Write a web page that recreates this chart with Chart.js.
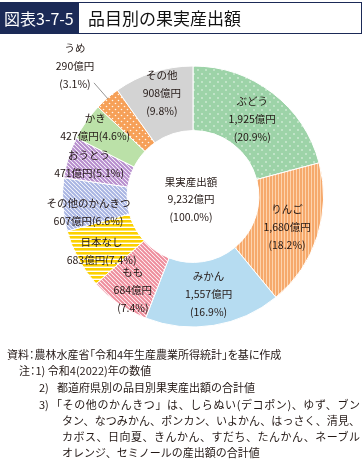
<!DOCTYPE html>
<html><head><meta charset="utf-8">
<script src="https://cdn.jsdelivr.net/npm/chart.js@4.4.1/dist/chart.umd.min.js"></script>
<style>
html,body{margin:0;padding:0;background:#fff;}
body{width:364px;height:466px;position:relative;overflow:hidden;font-family:"Noto Sans CJK JP","Noto Sans",sans-serif;color:#231815;}
#c{position:absolute;left:0;top:0;width:364px;height:466px;}
#titlebar{position:absolute;left:0;top:2px;width:362px;height:32px;box-sizing:border-box;border:1px solid #1b2a57;}
#fig{position:absolute;left:0;top:0;width:78px;height:30px;background:#1b2a57;color:#fff;font-size:16px;line-height:30px;padding-left:3px;box-sizing:border-box;white-space:nowrap;}
#ttl{position:absolute;left:87px;top:0;height:30px;font-size:17px;line-height:30px;color:#111;white-space:nowrap;}
.n{position:absolute;font-size:11px;line-height:16px;white-space:nowrap;color:#231815;}
.j{text-align:justify;text-align-last:justify;}
.p{font-feature-settings:"palt";}
</style></head>
<body>
<canvas id="c" width="364" height="466"></canvas>
<div id="titlebar"><div id="fig">図表3-7-5</div><div id="ttl">品目別の果実産出額</div></div>
<div class="n p" style="left:7px;top:346px;">資料：農林水産省「令和4年生産農業所得統計」を基に作成</div>
<div class="n p" style="left:19px;top:362px;">注：1)&nbsp;令和4(2022)年の数値</div>
<div class="n" style="left:39px;top:379px;">2)</div>
<div class="n" style="left:57px;top:379px;">都道府県別の品目別果実産出額の合計値</div>
<div class="n" style="left:39px;top:396px;">3)</div>
<div class="n j" style="left:51px;top:396px;width:309px;">「その他のかんきつ」は、しらぬい(デコポン)、ゆず、ブン</div>
<div class="n j" style="left:62px;top:412px;width:298px;">タン、なつみかん、ポンカン、いよかん、はっさく、清見、</div>
<div class="n j" style="left:62px;top:428px;width:298px;">カボス、日向夏、きんかん、すだち、たんかん、ネーブル</div>
<div class="n" style="left:62px;top:444px;">オレンジ、セミノールの産出額の合計値</div>
<script>
// ---- data ----
const categories = ['ぶどう','りんご','みかん','もも','日本なし','その他のかんきつ','おうとう','かき','うめ','その他'];
const values = [1925,1680,1557,684,683,607,471,427,290,908];
const percents = [20.9,18.2,16.9,7.4,7.4,6.6,5.1,4.6,3.1,9.8];
const totalLabel = ['果実産出額','9,232億円','(100.0%)'];
// ---- label placement (fraction of outer radius, angle nudge in degrees, layout) ----
const labelRadius = [0.745,0.757,0.755,0.855,0.815,0.81,0.835,0.92,1.35,0.83];
const labelNudge  = [0,0,0,-2,-2,-5,0,0.5,-1,1];
const labelLines  = [3,3,3,3,2,2,2,2,3,3];
const leaderLine  = [false,false,false,false,false,false,false,false,true,false];

function pat(w,h,bg,draw){
  const c=document.createElement('canvas');c.width=w;c.height=h;
  const x=c.getContext('2d');x.fillStyle=bg;x.fillRect(0,0,w,h);draw(x,w,h);
  return x.createPattern(c,'repeat');
}
function dots(bg,s,r,col){return pat(s,s,bg,(x)=>{x.fillStyle=col;[[s*0.25,s*0.25],[s*0.75,s*0.75]].forEach(p=>{x.beginPath();x.arc(p[0],p[1],r,0,Math.PI*2);x.fill();});});}
function diag(bg,s,lw,col){return pat(s,s,bg,(x)=>{x.strokeStyle=col;x.lineWidth=lw;for(let k=-1;k<=1;k++){x.beginPath();x.moveTo(k*s-1,-1);x.lineTo(k*s+s+1,s+1);x.stroke();}});}
function vstripe(bg,col,w,sw){return pat(w,1,bg,(x)=>{x.fillStyle=col;x.fillRect(0,0,sw,1);});}
function hstripe(bg,col,h,sh){return pat(1,h,bg,(x)=>{x.fillStyle=col;x.fillRect(0,0,1,sh);});}

const fills = [
  dots('#9dd3a8',8,0.75,'rgba(255,255,255,0.9)'),
  vstripe('#fdd3ad','#f6a96c',3,2),
  '#b6dcf1',
  diag('#ffffff',4,2,'#ee8d9c'),
  hstripe('#ffffff','#fcd100',4,2.6),
  diag('#ffffff',4,2,'#a8b4e2'),
  diag('#ffffff',4,2,'#b68dcd'),
  '#bbe1a8',
  dots('#f6a058',6,0.8,'rgba(255,255,255,0.9)'),
  '#d3d3d3'
];

const labelPlugin = {
  id:'sliceLabels',
  afterDatasetsDraw(chart){
    const ctx=chart.ctx;const meta=chart.getDatasetMeta(0);
    ctx.save();
    ctx.font='10.5px "Noto Sans CJK JP"';ctx.fillStyle='#231815';
    ctx.textAlign='center';ctx.textBaseline='middle';
    const lh=18;
    let cx0=0,cy0=0;
    meta.data.forEach((arc,i)=>{
      const p=arc.getProps(['x','y','startAngle','endAngle','outerRadius','innerRadius'],true);
      cx0=p.x;cy0=p.y;
      const mid=(p.startAngle+p.endAngle)/2+labelNudge[i]*Math.PI/180;
      const r=p.outerRadius*labelRadius[i];
      const cx=p.x+Math.cos(mid)*r, cy=p.y+Math.sin(mid)*r;
      const amt=values[i].toLocaleString('en-US')+'億円';
      const pc='('+percents[i].toFixed(1)+'%)';
      const lines=labelLines[i]===3?[categories[i],amt,pc]:[categories[i],amt+pc];
      lines.forEach((t,k)=>ctx.fillText(t,cx,cy+(k-(lines.length-1)/2)*lh));
      if(leaderLine[i]){
        const m=(p.startAngle+p.endAngle)/2;
        ctx.strokeStyle='#7a7a7a';ctx.lineWidth=0.8;ctx.beginPath();
        ctx.moveTo(p.x+Math.cos(m)*(p.outerRadius-1),p.y+Math.sin(m)*(p.outerRadius-1));
        ctx.lineTo(p.x+Math.cos(m)*p.outerRadius*1.155,p.y+Math.sin(m)*p.outerRadius*1.155);
        ctx.stroke();
      }
    });
    totalLabel.forEach((t,k)=>ctx.fillText(t,cx0-2,cy0+3+(k-1)*17.5));
    ctx.restore();
  }
};

new Chart(document.getElementById('c'),{
  type:'doughnut',
  data:{labels:categories,datasets:[{data:values,backgroundColor:fills,borderColor:'#ffffff',borderWidth:1,hoverOffset:0}]},
  options:{responsive:false,animation:false,devicePixelRatio:1,radius:130.5,cutout:'50.5%',
    layout:{padding:{left:22,top:0,right:0,bottom:73}},
    events:[],plugins:{legend:{display:false},tooltip:{enabled:false},title:{display:false}}},
  plugins:[labelPlugin]
});
</script>
</body></html>
